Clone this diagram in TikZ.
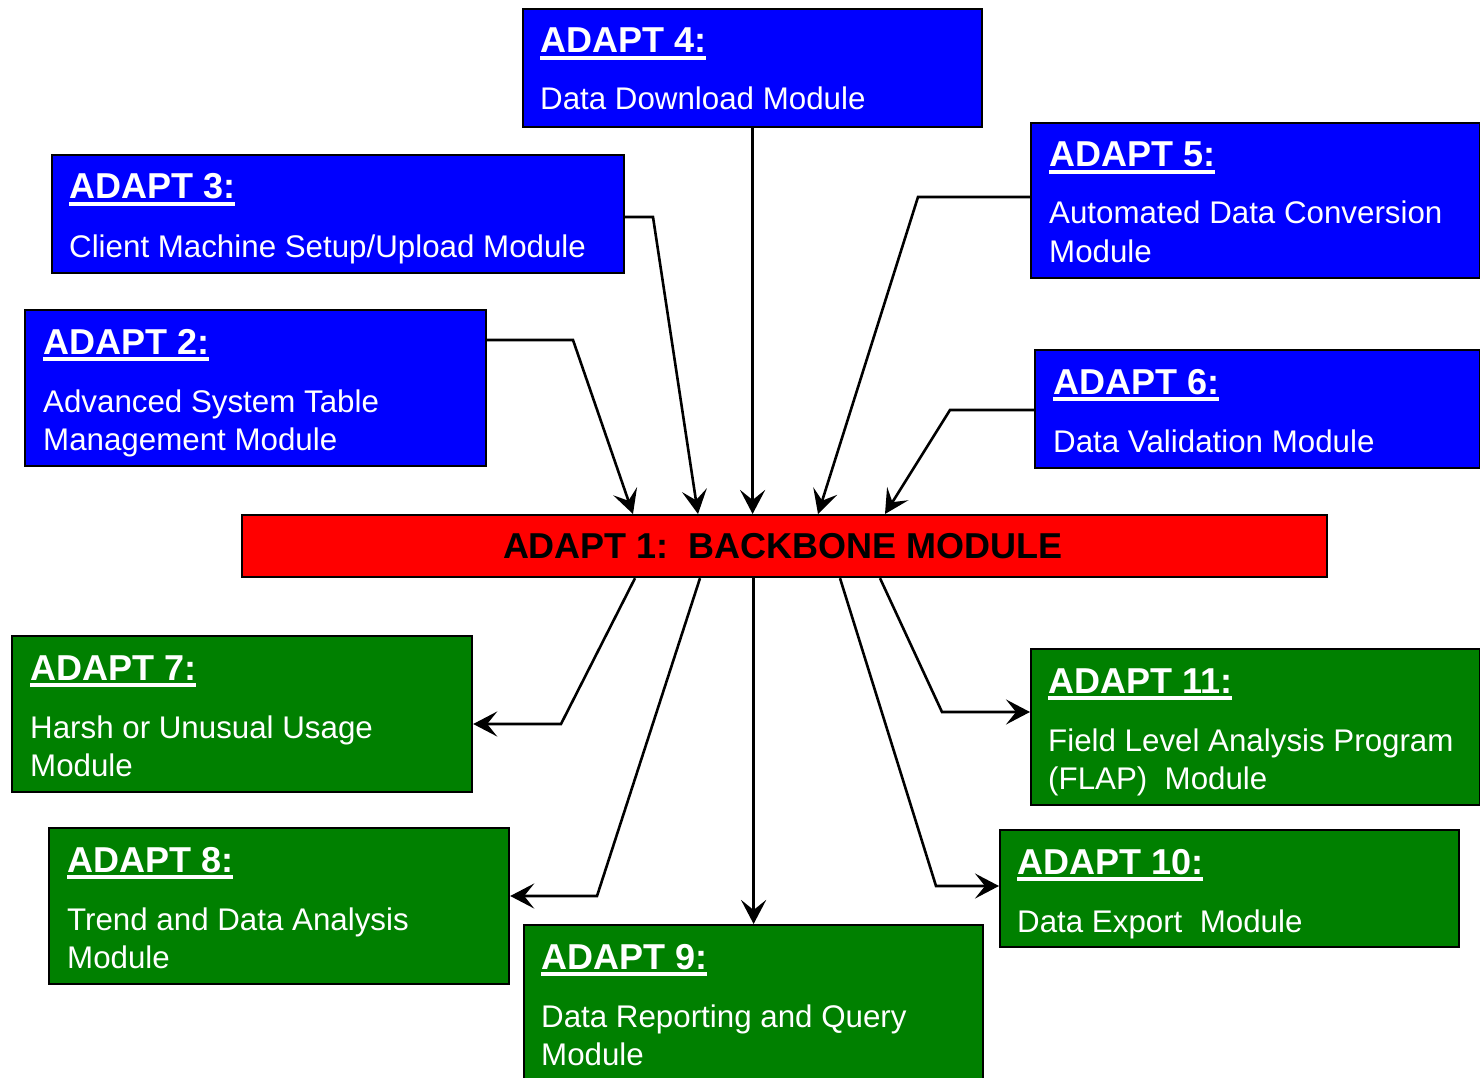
\documentclass[tikz,border=0pt]{standalone}
\usepackage{fontspec}
\setmainfont{Liberation Sans}
\newcommand{\ulbox}[1]{\setbox0=\hbox{#1}\rlap{\rule[-6.7pt]{\wd0}{4pt}}\box0}
\usetikzlibrary{arrows.meta}
\definecolor{adblue}{RGB}{0,0,255}
\definecolor{adred}{RGB}{255,0,0}
\definecolor{adgreen}{RGB}{0,128,0}
\tikzset{
  modbox/.style={draw=black, line width=2.2pt, inner sep=0pt, anchor=north west},
  bluebox/.style={modbox, fill=adblue},
  greenbox/.style={modbox, fill=adgreen},
  redbox/.style={modbox, fill=adred},
  ttl/.style={anchor=base west, inner sep=0pt, text=white, font=\fontsize{36}{38}\selectfont\bfseries},
  bdy/.style={anchor=base west, inner sep=0pt, text=white, font=\fontsize{31.3}{38}\selectfont},
  conn/.style={line width=2.6pt, draw=black, -{Stealth[length=24pt,width=25pt,inset=10pt]}},
  connthick/.style={conn, line width=3.6pt}
}
\begin{document}
\begin{tikzpicture}[x=1pt,y=-1pt]
\useasboundingbox (0,0) rectangle (1480,1078);
% boxes
\node[bluebox, minimum width=459pt, minimum height=118pt] (a4) at (522,8) {};
\node[bluebox, minimum width=572pt, minimum height=118pt] (a3) at (51,154) {};
\node[bluebox, minimum width=461pt, minimum height=156pt] (a2) at (24,309) {};
\node[bluebox, minimum width=449pt, minimum height=155pt] (a5) at (1030,122) {};
\node[bluebox, minimum width=445pt, minimum height=118pt] (a6) at (1034,349) {};
\node[redbox, minimum width=1085pt, minimum height=62pt] (bb) at (241,514) {};
\node[greenbox, minimum width=460pt, minimum height=156pt] (a7) at (11,635) {};
\node[greenbox, minimum width=460pt, minimum height=156pt] (a8) at (48,827) {};
\node[greenbox, minimum width=459pt, minimum height=165pt] (a9) at (523,924) {};
\node[greenbox, minimum width=449pt, minimum height=156pt] (a11) at (1030,648) {};
\node[greenbox, minimum width=459pt, minimum height=117pt] (a10) at (999,829) {};
% texts
\node[ttl] (a4t) at (540,53) {\ulbox{ADAPT 4:}};
\node[bdy] (a4b) at (540,110) {Data Download Module};
\node[ttl] (a3t) at (69,199) {\ulbox{ADAPT 3:}};
\node[bdy] (a3b) at (69,257) {Client Machine Setup/Upload Module};
\node[ttl] (a2t) at (43,354) {\ulbox{ADAPT 2:}};
\node[bdy] (a2b) at (43,412) {Advanced System Table};
\node[bdy] (a2c) at (43,450) {Management Module};
\node[ttl] (a5t) at (1049,167) {\ulbox{ADAPT 5:}};
\node[bdy] (a5b) at (1049,224) {Automated Data Conversion};
\node[bdy] (a5c) at (1049,262) {Module};
\node[ttl] (a6t) at (1053,394) {\ulbox{ADAPT 6:}};
\node[bdy] (a6b) at (1053,452) {Data Validation Module};
\node[anchor=base, inner sep=0pt, text=black, font=\fontsize{36}{38}\selectfont\bfseries] (bbt) at (783,558) {ADAPT 1:\ \ BACKBONE MODULE};
\node[ttl] (a7t) at (30,680) {\ulbox{ADAPT 7:}};
\node[bdy] (a7b) at (30,738) {Harsh or Unusual Usage};
\node[bdy] (a7c) at (30,776) {Module};
\node[ttl] (a8t) at (67,872) {\ulbox{ADAPT 8:}};
\node[bdy] (a8b) at (67,930) {Trend and Data Analysis};
\node[bdy] (a8c) at (67,968) {Module};
\node[ttl] (a9t) at (541,969) {\ulbox{ADAPT 9:}};
\node[bdy] (a9b) at (541,1027) {Data Reporting and Query};
\node[bdy] (a9c) at (541,1065) {Module};
\node[ttl] (a11t) at (1048,693) {\ulbox{ADAPT 11:}};
\node[bdy] (a11b) at (1048,751) {Field Level Analysis Program};
\node[bdy] (a11c) at (1048,789) {(FLAP)\ \ Module};
\node[ttl] (a10t) at (1017,874) {\ulbox{ADAPT 10:}};
\node[bdy] (a10b) at (1017,932) {Data Export\ \ Module};
% connectors into backbone
\draw[connthick] (a4.south) -- (a4.south |- bb.north);
\draw[conn] (a3.east |- 0,217) -- (653,217) -- (698,0 |- bb.north);
\draw[conn] (a2.east |- 0,340) -- (573,340) -- (633,0 |- bb.north);
\draw[conn] (a5.west |- 0,197) -- (918,197) -- (818,0 |- bb.north);
\draw[conn] (a6.west |- 0,410) -- (950,410) -- (885,0 |- bb.north);
% connectors out of backbone
\draw[conn] (635,0 |- bb.south) -- (561,724) -- (a7.east |- 0,724);
\draw[conn] (700,0 |- bb.south) -- (597,896) -- (a8.east |- 0,896);
\draw[connthick] (a9.north |- bb.south) -- (a9.north);
\draw[conn] (880,0 |- bb.south) -- (942,712) -- (a11.west |- 0,712);
\draw[conn] (840,0 |- bb.south) -- (936,886) -- (a10.west |- 0,886);
\end{tikzpicture}
\end{document}
